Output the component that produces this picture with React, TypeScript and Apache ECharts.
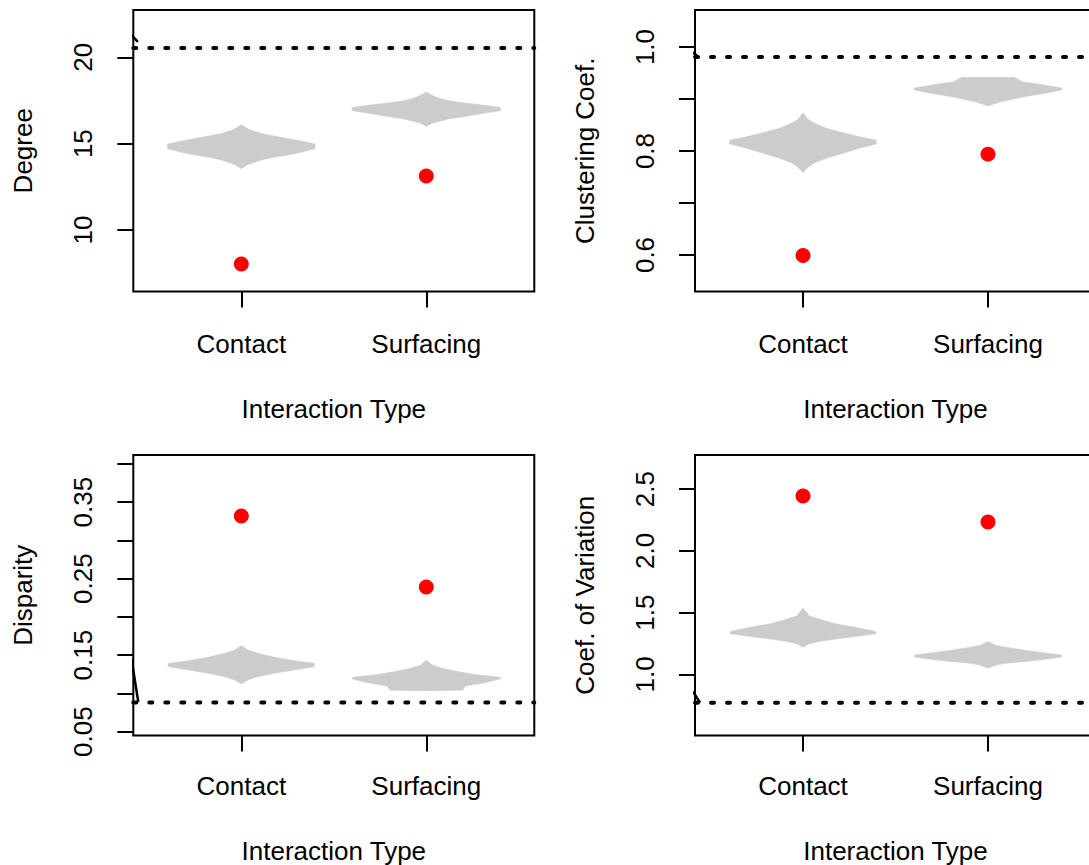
import React, { useEffect, useRef } from "react";
import * as echarts from "echarts";

// ---------- data ----------
const categories = ["Contact", "Surfacing"];
const categoryPositions = [1, 2];
const xAxisTitle = "Interaction Type";
const xRange = [0.416, 2.584];

const panelTitles = ["Degree", "Clustering Coef.", "Disparity", "Coef. of Variation"];

// observed values (red points)
const degreeObserved = [8.03, 13.13];
const clusteringObserved = [0.599, 0.794];
const disparityObserved = [0.332, 0.239];
const cvObserved = [2.444, 2.233];

// reference values (dotted lines)
const degreeReference = 20.54;
const clusteringReference = 0.981;
const disparityReference = 0.088;
const cvReference = 0.77;

// violin outlines, top to bottom: [value, half width in category units]
const degreeContactViolin = [
  [16.1, 0], [15.91, 0.027], [15.75, 0.059], [15.58, 0.114], [15.43, 0.185], [15.29, 0.258],
  [15.14, 0.33], [14.98, 0.398], [14.85, 0.4], [14.71, 0.398], [14.52, 0.33], [14.36, 0.258],
  [14.23, 0.185], [14.07, 0.114], [13.88, 0.059], [13.73, 0.027], [13.55, 0],
];
const degreeSurfacingViolin = [
  [17.99, 0], [17.8, 0.031], [17.64, 0.067], [17.49, 0.121], [17.35, 0.211], [17.22, 0.319],
  [17.1, 0.4], [17.02, 0.403], [16.91, 0.4], [16.78, 0.319], [16.58, 0.211], [16.43, 0.121],
  [16.29, 0.067], [16.18, 0.031], [16.0, 0],
];
const clusteringContactViolin = [
  [0.8737, 0], [0.861, 0.027], [0.8533, 0.063], [0.8437, 0.126], [0.8352, 0.216], [0.8275, 0.306],
  [0.8212, 0.396], [0.8179, 0.397], [0.8135, 0.396], [0.8052, 0.306], [0.7956, 0.216],
  [0.786, 0.126], [0.7775, 0.063], [0.7687, 0.027], [0.7583, 0],
];
const clusteringSurfacingViolin = [
  [0.942, 0], [0.9417, 0.14], [0.9379, 0.165], [0.9333, 0.185], [0.9288, 0.27], [0.921, 0.4],
  [0.9173, 0.397], [0.9096, 0.289], [0.9033, 0.18], [0.8948, 0.072], [0.889, 0.018], [0.8865, 0],
];
const disparityContactViolin = [
  [0.1624, 0], [0.1568, 0.036], [0.1525, 0.09], [0.1473, 0.18], [0.1428, 0.288], [0.1394, 0.393],
  [0.1372, 0.397], [0.135, 0.393], [0.1307, 0.288], [0.1263, 0.18], [0.1219, 0.09],
  [0.1176, 0.036], [0.1124, 0],
];
const disparitySurfacingViolin = [
  [0.1437, 0], [0.1372, 0.031], [0.1329, 0.085], [0.1284, 0.175], [0.1241, 0.283], [0.1211, 0.4],
  [0.1189, 0.4], [0.1141, 0.319], [0.1097, 0.211], [0.104, 0.195], [0.1036, 0],
];
const cvContactViolin = [
  [1.5366, 0], [1.509, 0.015], [1.474, 0.032], [1.447, 0.086], [1.409, 0.177], [1.382, 0.285],
  [1.346, 0.393], [1.338, 0.395], [1.328, 0.393], [1.306, 0.285], [1.285, 0.177], [1.265, 0.086],
  [1.246, 0.032], [1.2195, 0],
];
const cvSurfacingViolin = [
  [1.265, 0], [1.252, 0.018], [1.2325, 0.045], [1.2195, 0.099], [1.1976, 0.189], [1.179, 0.279],
  [1.157, 0.396], [1.149, 0.398], [1.138, 0.396], [1.116, 0.279], [1.102, 0.189], [1.089, 0.099],
  [1.0756, 0.045], [1.0488, 0],
];

// y-axis ranges, tick values and labelled values
const degreeRange = [6.44, 22.74];
const degreeTicks = [10, 15, 20];
const degreeLabels = [10, 15, 20];
const clusteringRange = [0.5298, 1.0712];
const clusteringTicks = [0.6, 0.7, 0.8, 0.9, 1.0];
const clusteringLabels = [0.6, 0.8, 1.0];
const disparityRange = [0.045, 0.4117];
const disparityTicks = [0.05, 0.1, 0.15, 0.2, 0.25, 0.3, 0.35, 0.4];
const disparityLabels = [0.05, 0.15, 0.25, 0.35];
const cvRange = [0.5045, 2.776];
const cvTicks = [1.0, 1.5, 2.0, 2.5];
const cvLabels = [1.0, 1.5, 2.0, 2.5];

// short clipped black strokes at the left edge of each panel
const degreeEdgeStroke = [[0.405, 21.3], [0.441, 20.9]];
const clusteringEdgeStroke = [[0.405, 0.99], [0.44, 0.979]];
const disparityEdgeStroke = [[0.405, 0.147], [0.443, 0.0888]];
const cvEdgeStroke = [[0.405, 0.861], [0.443, 0.77]];

// ---------- layout / style ----------
const FONT = "Liberation Sans, Arial, Helvetica, sans-serif";
const FS = 26;
const gridRects = [
  { left: 133.3, top: 10, width: 401, height: 281.5 },
  { left: 695, top: 10, width: 401, height: 281.5 },
  { left: 133.3, top: 455, width: 401, height: 280.5 },
  { left: 695, top: 455, width: 401, height: 280.5 },
];
const xLabelMargins = [39, 39, 37, 37];
const xNameGaps = [104, 104, 102.5, 102.5];

const panels = [
  { title: panelTitles[0], range: degreeRange, ticks: degreeTicks, labels: degreeLabels, dec: 0,
    observed: degreeObserved, reference: degreeReference,
    violins: [degreeContactViolin, degreeSurfacingViolin], stroke: degreeEdgeStroke },
  { title: panelTitles[1], range: clusteringRange, ticks: clusteringTicks, labels: clusteringLabels, dec: 1,
    observed: clusteringObserved, reference: clusteringReference,
    violins: [clusteringContactViolin, clusteringSurfacingViolin], stroke: clusteringEdgeStroke },
  { title: panelTitles[2], range: disparityRange, ticks: disparityTicks, labels: disparityLabels, dec: 2,
    observed: disparityObserved, reference: disparityReference,
    violins: [disparityContactViolin, disparitySurfacingViolin], stroke: disparityEdgeStroke },
  { title: panelTitles[3], range: cvRange, ticks: cvTicks, labels: cvLabels, dec: 1,
    observed: cvObserved, reference: cvReference,
    violins: [cvContactViolin, cvSurfacingViolin], stroke: cvEdgeStroke },
];

function buildOption() {
  const grid = gridRects.map((r) => ({
    ...r,
    show: true,
    borderColor: "#000",
    borderWidth: 2,
    backgroundColor: "transparent",
    outerBoundsMode: "none",
    containLabel: false,
  }));

  const xAxis = panels.map((p, i) => ({
    type: "value",
    gridIndex: i,
    min: xRange[0],
    max: xRange[1],
    axisLine: { show: false },
    splitLine: { show: false },
    axisTick: { show: true, customValues: categoryPositions, length: 16, lineStyle: { color: "#000", width: 2 } },
    axisLabel: {
      show: true,
      customValues: categoryPositions,
      formatter: (v: number) => categories[categoryPositions.indexOf(v)] ?? "",
      fontSize: FS,
      fontFamily: FONT,
      color: "#000",
      margin: xLabelMargins[i],
    },
    name: xAxisTitle,
    nameLocation: "middle",
    nameGap: xNameGaps[i],
    nameMoveOverlap: false,
    nameTextStyle: { fontSize: FS, fontFamily: FONT, color: "#000" },
  }));

  const yAxis = panels.map((p, i) => ({
    type: "value",
    gridIndex: i,
    min: p.range[0],
    max: p.range[1],
    axisLine: { show: false },
    splitLine: { show: false },
    axisTick: { show: true, customValues: p.ticks, length: 16, lineStyle: { color: "#000", width: 2 } },
    axisLabel: {
      show: true,
      customValues: p.labels,
      formatter: (v: number) => v.toFixed(p.dec),
      rotate: 90,
      fontSize: FS,
      fontFamily: FONT,
      color: "#000",
      margin: 37,
    },
    name: p.title,
    nameLocation: "middle",
    nameRotate: 90,
    nameGap: 97,
    nameMoveOverlap: false,
    nameTextStyle: { fontSize: FS, fontFamily: FONT, color: "#000" },
  }));

  const series: any[] = [];
  panels.forEach((p, i) => {
    series.push({
      type: "custom",
      xAxisIndex: i,
      yAxisIndex: i,
      clip: true,
      z: 2,
      data: categoryPositions.map((pos, k) => [pos, p.observed[k]]),
      renderItem: (params: any, api: any) => {
        const k = params.dataIndex;
        const prof = p.violins[k];
        const x = api.value(0);
        const right = prof.map(([v, w]) => api.coord([x + w, v]));
        const left = prof.slice().reverse().map(([v, w]) => api.coord([x - w, v]));
        return {
          type: "polygon",
          shape: { points: right.concat(left) },
          style: { fill: "#CCCCCC", stroke: "#CCCCCC", lineWidth: 0.5 },
        };
      },
    });
    series.push({
      type: "line",
      xAxisIndex: i,
      yAxisIndex: i,
      z: 3,
      symbol: "none",
      clip: true,
      data: [[xRange[0], p.reference], [xRange[1], p.reference]],
      lineStyle: { color: "#000", width: 4, type: [3, 13], cap: "round" },
    });
    series.push({
      type: "line",
      xAxisIndex: i,
      yAxisIndex: i,
      z: 3,
      symbol: "none",
      clip: true,
      data: p.stroke,
      lineStyle: { color: "#000", width: 2.5 },
    });
    series.push({
      type: "scatter",
      xAxisIndex: i,
      yAxisIndex: i,
      z: 4,
      symbol: "circle",
      symbolSize: 15,
      data: categoryPositions.map((pos, k) => [pos, p.observed[k]]),
      itemStyle: { color: "#FF0000", opacity: 1 },
    });
  });

  return {
    animation: false,
    backgroundColor: "#ffffff",
    textStyle: { fontFamily: FONT },
    grid,
    xAxis,
    yAxis,
    series,
  };
}

export default function App() {
  const ref = useRef<HTMLDivElement>(null);
  useEffect(() => {
    if (!ref.current) return;
    const chart = echarts.init(ref.current, undefined, { renderer: "svg" });
    chart.setOption(buildOption() as any);
    return () => chart.dispose();
  }, []);
  return (
    <div
      ref={ref}
      style={{ position: "absolute", left: 0, top: 0, width: 1089, height: 865, background: "#fff" }}
    />
  );
}
